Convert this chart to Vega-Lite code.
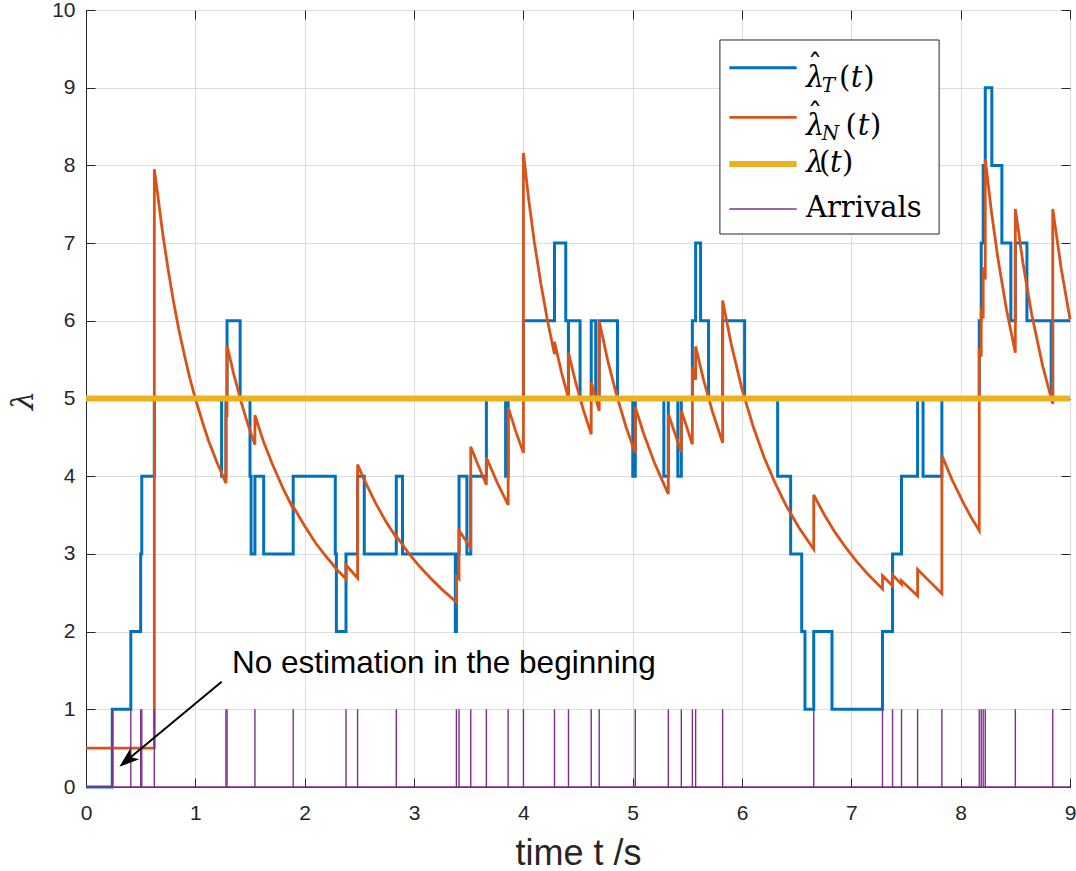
{
  "$schema": "https://vega.github.io/schema/vega-lite/v6.json",
  "width": 984,
  "height": 777,
  "autosize": {"type": "none"},
  "padding": {"left": 86, "top": 10, "right": 6, "bottom": 84},
  "background": "white",
  "config": {
    "view": {"stroke": "#262626", "strokeWidth": 1},
    "axis": {
      "labelFont": "Liberation Sans",
      "labelFontSize": 21,
      "labelColor": "#262626",
      "domainColor": "#262626",
      "tickColor": "#262626",
      "gridColor": "#DEDEDE",
      "gridWidth": 1,
      "titleFont": "Liberation Sans",
      "titleColor": "#262626",
      "titleFontWeight": "normal",
      "labelFlush": false,
      "labelOverlap": false
    }
  },
  "resolve": {"axis": {"x": "independent", "y": "independent"}},
  "datasets": {
    "one": [{}],
    "tq": [{"t":0,"v":0},{"t":0.24,"v":1},{"t":0.41,"v":2},{"t":0.5,"v":3},{"t":0.51,"v":4},{"t":0.625,"v":5},{"t":1.24,"v":4},{"t":1.28,"v":5},{"t":1.29,"v":6},{"t":1.41,"v":5},{"t":1.5,"v":4},{"t":1.51,"v":3},{"t":1.545,"v":4},{"t":1.625,"v":3},{"t":1.895,"v":4},{"t":2.28,"v":3},{"t":2.29,"v":2},{"t":2.378,"v":3},{"t":2.484,"v":4},{"t":2.545,"v":3},{"t":2.838,"v":4},{"t":2.895,"v":3},{"t":3.378,"v":2},{"t":3.388,"v":3},{"t":3.412,"v":4},{"t":3.484,"v":3},{"t":3.519,"v":4},{"t":3.662,"v":5},{"t":3.838,"v":4},{"t":3.861,"v":5},{"t":4.001,"v":6},{"t":4.285,"v":7},{"t":4.388,"v":6},{"t":4.412,"v":5},{"t":4.413,"v":6},{"t":4.519,"v":5},{"t":4.621,"v":6},{"t":4.662,"v":5},{"t":4.694,"v":6},{"t":4.861,"v":5},{"t":5.001,"v":4},{"t":5.024,"v":5},{"t":5.285,"v":4},{"t":5.326,"v":5},{"t":5.413,"v":4},{"t":5.445,"v":5},{"t":5.546,"v":6},{"t":5.576,"v":7},{"t":5.621,"v":6},{"t":5.694,"v":5},{"t":5.823,"v":6},{"t":6.024,"v":5},{"t":6.326,"v":4},{"t":6.445,"v":3},{"t":6.546,"v":2},{"t":6.576,"v":1},{"t":6.656,"v":2},{"t":6.823,"v":1},{"t":7.285,"v":2},{"t":7.377,"v":3},{"t":7.459,"v":4},{"t":7.606,"v":5},{"t":7.656,"v":4},{"t":7.828,"v":5},{"t":8.17,"v":6},{"t":8.188,"v":7},{"t":8.206,"v":8},{"t":8.225,"v":9},{"t":8.285,"v":8},{"t":8.377,"v":7},{"t":8.459,"v":6},{"t":8.5,"v":7},{"t":8.606,"v":6},{"t":8.828,"v":5},{"t":8.842,"v":6},{"t":9,"v":6}],
    "nq": [{"t":0,"v":0.5},{"t":0.625,"v":0.5},{"t":0.625,"v":7.95},{"t":0.66,"v":7.58},{"t":0.7,"v":7.14},{"t":0.75,"v":6.67},{"t":0.8,"v":6.25},{"t":0.85,"v":5.88},{"t":0.9,"v":5.56},{"t":0.95,"v":5.26},{"t":1.0,"v":5.0},{"t":1.06,"v":4.72},{"t":1.12,"v":4.46},{"t":1.2,"v":4.17},{"t":1.28,"v":3.91},{"t":1.28,"v":4.81},{"t":1.29,"v":4.76},{"t":1.29,"v":5.68},{"t":1.35,"v":5.32},{"t":1.42,"v":4.95},{"t":1.48,"v":4.67},{"t":1.545,"v":4.405},{"t":1.545,"v":4.785},{"t":1.62,"v":4.46},{"t":1.7,"v":4.17},{"t":1.8,"v":3.85},{"t":1.895,"v":3.58},{"t":1.895,"v":3.61},{"t":2.0,"v":3.36},{"t":2.1,"v":3.14},{"t":2.2,"v":2.96},{"t":2.3,"v":2.79},{"t":2.378,"v":2.68},{"t":2.378,"v":2.857},{"t":2.484,"v":2.69},{"t":2.484,"v":4.15},{"t":2.55,"v":3.94},{"t":2.65,"v":3.65},{"t":2.75,"v":3.4},{"t":2.838,"v":3.21},{"t":2.838,"v":3.23},{"t":2.95,"v":3.01},{"t":3.05,"v":2.84},{"t":3.15,"v":2.69},{"t":3.25,"v":2.55},{"t":3.388,"v":2.38},{"t":3.388,"v":2.71},{"t":3.412,"v":2.68},{"t":3.412,"v":3.3},{"t":3.519,"v":3.08},{"t":3.519,"v":4.38},{"t":3.59,"v":4.13},{"t":3.662,"v":3.89},{"t":3.662,"v":4.24},{"t":3.76,"v":3.92},{"t":3.861,"v":3.63},{"t":3.861,"v":4.89},{"t":3.93,"v":4.58},{"t":4.001,"v":4.3},{"t":4.001,"v":8.16},{"t":4.05,"v":7.55},{"t":4.1,"v":7.02},{"t":4.16,"v":6.48},{"t":4.22,"v":6.01},{"t":4.285,"v":5.57},{"t":4.285,"v":5.73},{"t":4.35,"v":5.33},{"t":4.413,"v":5.0},{"t":4.413,"v":5.59},{"t":4.48,"v":5.2},{"t":4.55,"v":4.85},{"t":4.621,"v":4.54},{"t":4.621,"v":5.21},{"t":4.694,"v":4.84},{"t":4.694,"v":6.0},{"t":4.77,"v":5.5},{"t":4.85,"v":5.06},{"t":4.94,"v":4.63},{"t":5.024,"v":4.3},{"t":5.024,"v":4.89},{"t":5.1,"v":4.55},{"t":5.2,"v":4.17},{"t":5.326,"v":3.77},{"t":5.326,"v":4.8},{"t":5.445,"v":4.31},{"t":5.445,"v":4.845},{"t":5.546,"v":4.41},{"t":5.546,"v":5.41},{"t":5.576,"v":5.24},{"t":5.576,"v":5.67},{"t":5.65,"v":5.23},{"t":5.73,"v":4.83},{"t":5.823,"v":4.43},{"t":5.823,"v":6.26},{"t":5.9,"v":5.71},{"t":6.0,"v":5.12},{"t":6.1,"v":4.65},{"t":6.2,"v":4.25},{"t":6.3,"v":3.92},{"t":6.4,"v":3.63},{"t":6.52,"v":3.34},{"t":6.656,"v":3.06},{"t":6.656,"v":3.76},{"t":6.75,"v":3.51},{"t":6.85,"v":3.28},{"t":6.95,"v":3.08},{"t":7.05,"v":2.9},{"t":7.15,"v":2.74},{"t":7.285,"v":2.55},{"t":7.285,"v":2.72},{"t":7.377,"v":2.59},{"t":7.377,"v":2.73},{"t":7.459,"v":2.61},{"t":7.459,"v":2.655},{"t":7.606,"v":2.46},{"t":7.606,"v":2.8},{"t":7.72,"v":2.64},{"t":7.828,"v":2.49},{"t":7.828,"v":4.27},{"t":7.92,"v":3.96},{"t":8.02,"v":3.67},{"t":8.1,"v":3.46},{"t":8.17,"v":3.3},{"t":8.17,"v":5.65},{"t":8.188,"v":5.54},{"t":8.188,"v":6.17},{"t":8.206,"v":6.03},{"t":8.206,"v":6.69},{"t":8.225,"v":6.53},{"t":8.225,"v":8.08},{"t":8.28,"v":7.42},{"t":8.34,"v":6.81},{"t":8.42,"v":6.14},{"t":8.5,"v":5.59},{"t":8.5,"v":7.44},{"t":8.57,"v":6.74},{"t":8.65,"v":6.08},{"t":8.75,"v":5.42},{"t":8.842,"v":4.93},{"t":8.842,"v":7.44},{"t":8.92,"v":6.67},{"t":9.0,"v":6.02}],
    "arr": [{"t":0.24},{"t":0.41},{"t":0.5},{"t":0.51},{"t":0.625},{"t":1.28},{"t":1.29},{"t":1.545},{"t":1.895},{"t":2.378},{"t":2.484},{"t":2.838},{"t":3.388},{"t":3.412},{"t":3.519},{"t":3.662},{"t":3.861},{"t":4.001},{"t":4.285},{"t":4.413},{"t":4.621},{"t":4.694},{"t":5.024},{"t":5.326},{"t":5.445},{"t":5.546},{"t":5.576},{"t":5.823},{"t":6.656},{"t":7.285},{"t":7.377},{"t":7.459},{"t":7.606},{"t":7.828},{"t":8.17},{"t":8.188},{"t":8.206},{"t":8.225},{"t":8.5},{"t":8.842}]
  },
  "layer": [
    {
      "data": {"name": "tq"},
      "mark": {"type": "line", "interpolate": "step-after", "color": "#0072BD", "strokeWidth": 3},
      "encoding": {
        "x": {"field": "t", "type": "quantitative", "scale": {"domain": [0, 9], "nice": false, "zero": false},
          "axis": {"values": [0,1,2,3,4,5,6,7,8,9], "title": "time t /s", "titleFontSize": 36, "titleY": 77, "titleBaseline": "alphabetic", "tickSize": -9, "labelPadding": 24, "grid": true, "zindex": 0}},
        "y": {"field": "v", "type": "quantitative", "scale": {"domain": [0, 10], "nice": false},
          "axis": {"values": [0,1,2,3,4,5,6,7,8,9,10], "title": "λ", "titleFont": "DejaVu Serif", "titleFontStyle": "italic", "titleFontSize": 30, "titleX": -63, "titleY": 390, "titleAngle": -90, "titleAlign": "center", "titleBaseline": "middle", "tickSize": -9, "labelPadding": 20, "grid": true, "zindex": 0}},
        "order": {"value": null}
      }
    },
    {
      "data": {"name": "tq"},
      "mark": {"type": "rule", "opacity": 0},
      "encoding": {
        "x": {"field": "t", "type": "quantitative", "axis": {"orient": "top", "values": [0,1,2,3,4,5,6,7,8,9], "labels": false, "title": null, "grid": false, "domain": false, "tickSize": -9}},
        "y": {"field": "v", "type": "quantitative", "axis": {"orient": "right", "values": [0,1,2,3,4,5,6,7,8,9,10], "labels": false, "title": null, "grid": false, "domain": false, "tickSize": -9}}
      }
    },
    {
      "data": {"name": "nq"},
      "mark": {"type": "line", "color": "#D95319", "strokeWidth": 2.8},
      "encoding": {
        "x": {"field": "t", "type": "quantitative", "axis": null},
        "y": {"field": "v", "type": "quantitative", "axis": null},
        "order": {"value": null}
      }
    },
    {
      "data": {"name": "one"},
      "mark": {"type": "rule", "color": "#EDB120", "strokeWidth": 6},
      "encoding": {"y": {"datum": 5, "type": "quantitative", "axis": null}}
    },
    {
      "data": {"name": "one"},
      "mark": {"type": "rule", "color": "#7E2F8E", "strokeWidth": 1.3},
      "encoding": {"y": {"datum": 0, "type": "quantitative", "axis": null}}
    },
    {
      "data": {"name": "arr"},
      "mark": {"type": "rule", "color": "#7E2F8E", "strokeWidth": 1.4},
      "encoding": {
        "x": {"field": "t", "type": "quantitative", "axis": null},
        "y": {"datum": 0, "type": "quantitative", "axis": null},
        "y2": {"datum": 1}
      }
    },
    {
      "data": {"name": "one"},
      "mark": {"type": "rect", "fill": "white", "stroke": "#262626", "strokeWidth": 1},
      "encoding": {
        "x": {"datum": 5.798, "type": "quantitative", "axis": null},
        "x2": {"datum": 7.803},
        "y": {"datum": 7.117, "type": "quantitative", "axis": null},
        "y2": {"datum": 9.614}
      }
    },
    {
      "data": {"name": "one"},
      "mark": {"type": "rule", "color": "#0072BD", "strokeWidth": 3},
      "encoding": {"x": {"datum": 5.884, "type": "quantitative", "axis": null}, "x2": {"datum": 6.5}, "y": {"datum": 9.257, "type": "quantitative", "axis": null}}
    },
    {
      "data": {"name": "one"},
      "mark": {"type": "rule", "color": "#D95319", "strokeWidth": 2.8},
      "encoding": {"x": {"datum": 5.884, "type": "quantitative", "axis": null}, "x2": {"datum": 6.5}, "y": {"datum": 8.619, "type": "quantitative", "axis": null}}
    },
    {
      "data": {"name": "one"},
      "mark": {"type": "rule", "color": "#EDB120", "strokeWidth": 6},
      "encoding": {"x": {"datum": 5.884, "type": "quantitative", "axis": null}, "x2": {"datum": 6.5}, "y": {"datum": 8.018, "type": "quantitative", "axis": null}}
    },
    {
      "data": {"name": "one"},
      "mark": {"type": "rule", "color": "#7E2F8E", "strokeWidth": 1.3},
      "encoding": {"x": {"datum": 5.884, "type": "quantitative", "axis": null}, "x2": {"datum": 6.5}, "y": {"datum": 7.439, "type": "quantitative", "axis": null}}
    },
    {
      "data": {"values": [{"x": 6.585, "y": 9.013, "s": "λ"}, {"x": 6.995, "y": 9.013, "s": "t"}, {"x": 6.585, "y": 8.39, "s": "λ"}, {"x": 7.058, "y": 8.39, "s": "t"}, {"x": 6.585, "y": 7.92, "s": "λ"}, {"x": 6.805, "y": 7.92, "s": "t"}]},
      "mark": {"type": "text", "font": "DejaVu Serif", "fontStyle": "italic", "fontSize": 29, "align": "left", "baseline": "alphabetic", "color": "black"},
      "encoding": {"x": {"field": "x", "type": "quantitative", "axis": null}, "y": {"field": "y", "type": "quantitative", "axis": null}, "text": {"field": "s"}}
    },
    {
      "data": {"values": [{"x": 6.668, "y": 9.16, "s": "ˆ"}, {"x": 6.668, "y": 8.537, "s": "ˆ"}]},
      "mark": {"type": "text", "font": "DejaVu Serif", "fontSize": 29, "align": "center", "baseline": "alphabetic", "color": "black"},
      "encoding": {"x": {"field": "x", "type": "quantitative", "axis": null}, "y": {"field": "y", "type": "quantitative", "axis": null}, "text": {"field": "s"}}
    },
    {
      "data": {"values": [{"x": 6.887, "y": 9.013, "s": "("}, {"x": 7.108, "y": 9.013, "s": ")"}, {"x": 6.946, "y": 8.39, "s": "("}, {"x": 7.17, "y": 8.39, "s": ")"}, {"x": 6.704, "y": 7.92, "s": "("}, {"x": 6.915, "y": 7.92, "s": ")"}, {"x": 6.585, "y": 7.34, "s": "Arrivals"}]},
      "mark": {"type": "text", "font": "DejaVu Serif", "fontSize": 29, "align": "left", "baseline": "alphabetic", "color": "black"},
      "encoding": {"x": {"field": "x", "type": "quantitative", "axis": null}, "y": {"field": "y", "type": "quantitative", "axis": null}, "text": {"field": "s"}}
    },
    {
      "data": {"values": [{"x": 6.729, "y": 8.95, "s": "T"}, {"x": 6.729, "y": 8.33, "s": "N"}]},
      "mark": {"type": "text", "font": "DejaVu Serif", "fontStyle": "italic", "fontSize": 20, "align": "left", "baseline": "alphabetic", "color": "black"},
      "encoding": {"x": {"field": "x", "type": "quantitative", "axis": null}, "y": {"field": "y", "type": "quantitative", "axis": null}, "text": {"field": "s"}}
    },
    {
      "data": {"values": [{"x": 1.335, "y": 1.463, "s": "No estimation in the beginning"}]},
      "mark": {"type": "text", "font": "Liberation Sans", "fontSize": 31.5, "align": "left", "baseline": "alphabetic", "color": "black"},
      "encoding": {"x": {"field": "x", "type": "quantitative", "axis": null}, "y": {"field": "y", "type": "quantitative", "axis": null}, "text": {"field": "s"}}
    },
    {
      "data": {"name": "one"},
      "mark": {"type": "rule", "color": "black", "strokeWidth": 2},
      "encoding": {
        "x": {"datum": 1.241, "type": "quantitative", "axis": null},
        "x2": {"datum": 0.375},
        "y": {"datum": 1.355, "type": "quantitative", "axis": null},
        "y2": {"datum": 0.343}
      }
    },
    {
      "data": {"name": "one"},
      "mark": {"type": "point", "shape": "M0,0 L0.35,1 L0,0.75 L-0.35,1 Z", "filled": true, "color": "black", "opacity": 1, "size": 1600, "angle": 230.3},
      "encoding": {
        "x": {"datum": 0.305, "type": "quantitative", "axis": null},
        "y": {"datum": 0.261, "type": "quantitative", "axis": null}
      }
    }
  ]
}
